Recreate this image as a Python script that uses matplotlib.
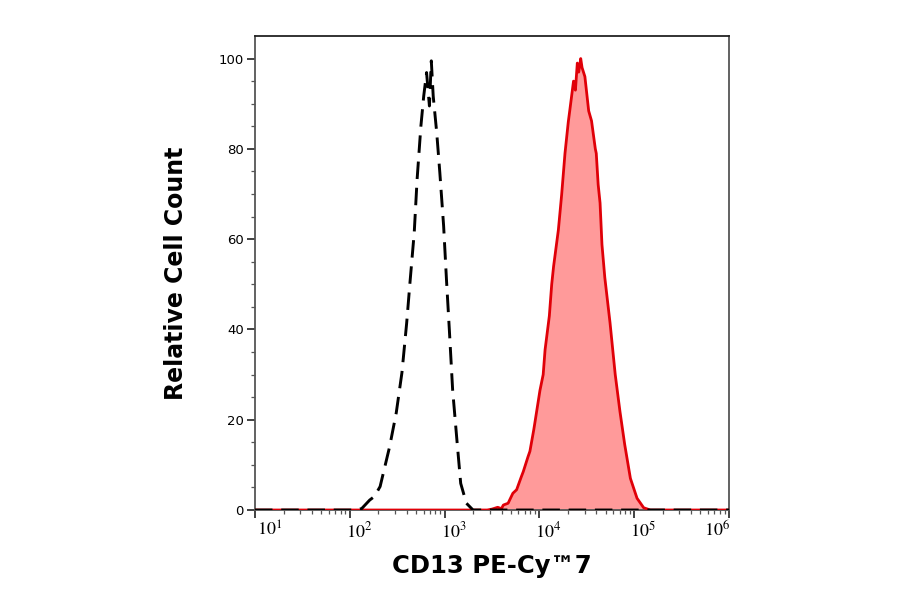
import numpy as np
import matplotlib
matplotlib.use("Agg")
import matplotlib.pyplot as plt
from matplotlib.transforms import ScaledTranslation
from matplotlib.ticker import FixedLocator, NullFormatter

# isotype control (black dashed), x given as log10 of intensity
ctrl_log = [1.0, 2.05, 2.125, 2.21, 2.26, 2.32, 2.42, 2.49, 2.55, 2.60, 2.635, 2.68,
            2.71, 2.75, 2.78, 2.81, 2.84, 2.86, 2.88, 2.917, 2.95, 2.99, 3.02,
            3.05, 3.085, 3.13, 3.17, 3.23, 3.30, 6.0]
ctrl_val = [0, 0, 0.3, 2.2, 3.0, 5.2, 14, 21.5, 30.4, 41.4, 50.4, 61.5,
            73.2, 85, 91.7, 96.9, 89.5, 99.5, 91.7, 83.6, 74.7, 62.9, 51,
            40, 26.6, 15.5, 5.9, 1.5, 0, 0]

# CD13 PE-Cy7 stained cells (red filled)
cd13_log = [1.0, 3.45, 3.50, 3.56, 3.60, 3.62, 3.67, 3.72, 3.76, 3.81, 3.83, 3.88,
            3.90, 3.94, 3.95, 4.006, 4.04, 4.06, 4.105, 4.13, 4.15, 4.18, 4.20,
            4.22, 4.235, 4.27, 4.305, 4.32, 4.36, 4.38, 4.40, 4.415, 4.436, 4.45,
            4.48, 4.52, 4.55, 4.59, 4.60, 4.62, 4.64, 4.66, 4.69, 4.745, 4.80,
            4.85, 4.90, 4.96, 5.03, 5.10, 5.17, 6.0]
cd13_val = [0, 0, 0.2, 0.6, 0.3, 1.1, 1.5, 3.7, 4.5, 7.4, 8.5, 11.8,
            13.0, 17.7, 19.0, 26.5, 30.0, 35.5, 43.0, 50.0, 54.0, 58.8, 62.0,
            66.5, 69.9, 79.0, 86.0, 88.4, 95.0, 93.0, 99.0, 97.0, 100.0, 98.0,
            96.0, 88.4, 86.2, 80.0, 79.0, 72.1, 68.0, 58.8, 51.5, 41.5, 30.0,
            21.8, 14.5, 7.0, 2.6, 0.5, 0, 0]

x_ticks = [1e1, 1e2, 1e3, 1e4, 1e5, 1e6]
x_tick_labels = ["$10^{1}$", "$10^{2}$", "$10^{3}$", "$10^{4}$", "$10^{5}$", "$10^{6}$"]
y_ticks = [0, 20, 40, 60, 80, 100]

plt.rcParams["mathtext.fontset"] = "stix"

fig = plt.figure(figsize=(9, 5.94), dpi=100)
ax = fig.add_axes([0.2833, 0.1414, 0.5267, 0.798])

cx = 10 ** np.array(ctrl_log)
rx = 10 ** np.array(cd13_log)

ax.fill_between(rx, cd13_val, 0, color="#ff9a9a", linewidth=0, zorder=2)
ax.plot(rx, cd13_val, color="#e00008", lw=2.0, zorder=3)
ax.plot(cx, ctrl_val, color="black", lw=2.1, dashes=(6, 3.0), zorder=4)

ax.set_xscale("log")
ax.set_xlim(1e1, 1e6)
ax.set_ylim(0, 105)

ax.set_xticks(x_ticks)
ax.set_xticklabels(x_tick_labels, fontsize=13)
minor = [m * 10 ** e for e in range(1, 6) for m in range(2, 10)]
ax.xaxis.set_minor_locator(FixedLocator(minor))
ax.xaxis.set_minor_formatter(NullFormatter())

ax.set_yticks(y_ticks)
ax.set_yticklabels([str(v) for v in y_ticks], fontsize=9.5, family="DejaVu Sans")
ax.yaxis.set_minor_locator(FixedLocator(np.arange(5, 105, 5)))

ax.tick_params(axis="both", which="major", direction="out", length=6, width=1.3,
               color="#333333", pad=2)
ax.tick_params(axis="both", which="minor", direction="out", length=3, width=0.9,
               color="#555555")
ax.tick_params(axis="x", which="major", pad=2)

# shift x tick labels like the original (edge labels pulled inside)
shifts = [15, 9, 9, 9, 9, -12]
for lab, dx in zip(ax.get_xticklabels(), shifts):
    lab.set_transform(lab.get_transform() + ScaledTranslation(dx / 100, 0, fig.dpi_scale_trans))

for side in ["left", "right", "top", "bottom"]:
    ax.spines[side].set_color("#555555")
    ax.spines[side].set_linewidth(1.3)
ax.spines["top"].set_color("#222222")

ax.set_xlabel("CD13 PE-Cy™7", fontsize=17.5, fontweight="bold", labelpad=9,
              family="DejaVu Sans")
ax.set_ylabel("Relative Cell Count", fontsize=17, fontweight="bold", labelpad=22,
              family="DejaVu Sans")

fig.savefig("out.png", dpi=100)
